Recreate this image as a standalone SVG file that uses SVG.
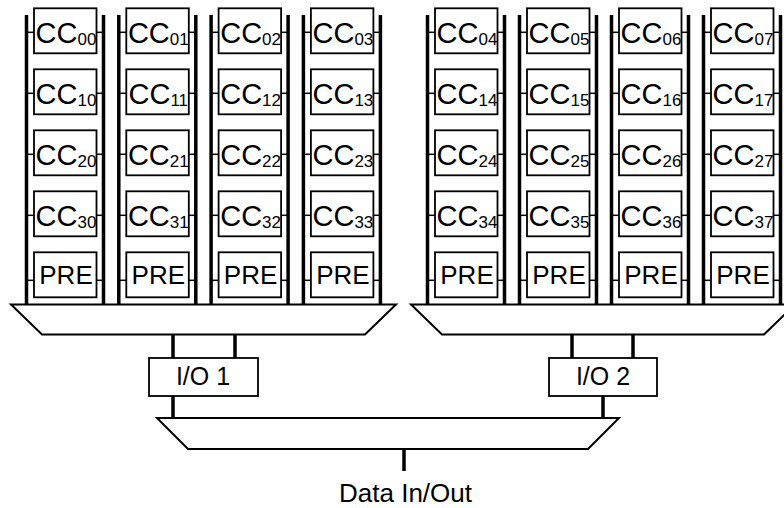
<svg xmlns="http://www.w3.org/2000/svg" width="784" height="508" viewBox="0 0 784 508">
<style>
.box{fill:#fff;stroke:#000;stroke-width:1.8}
.bar{stroke:#000;stroke-width:3.5;fill:none}
.stub{stroke:#000;stroke-width:1.5;fill:none}
.trap{fill:#fff;stroke:#000;stroke-width:2}
.cc{font-family:"Liberation Sans",Arial,sans-serif;font-size:29px;fill:#000;text-anchor:middle}
.sub{font-size:17px}
.pre{font-family:"Liberation Sans",Arial,sans-serif;font-size:26px;fill:#000;text-anchor:middle}
.lbl{font-family:"Liberation Sans",Arial,sans-serif;font-size:25px;fill:#000;text-anchor:middle}
</style>
<defs>
<g id="col">
<line class="bar" x1="0" y1="15" x2="0" y2="305"/>
<line class="bar" x1="77" y1="15" x2="77" y2="305"/>
<line class="stub" x1="0" y1="32.3" x2="7.5" y2="32.3"/><line class="stub" x1="70" y1="32.3" x2="77" y2="32.3"/>
<line class="stub" x1="0" y1="93.3" x2="7.5" y2="93.3"/><line class="stub" x1="70" y1="93.3" x2="77" y2="93.3"/>
<line class="stub" x1="0" y1="154.3" x2="7.5" y2="154.3"/><line class="stub" x1="70" y1="154.3" x2="77" y2="154.3"/>
<line class="stub" x1="0" y1="215.3" x2="7.5" y2="215.3"/><line class="stub" x1="70" y1="215.3" x2="77" y2="215.3"/>
<line class="stub" x1="0" y1="280.3" x2="7.5" y2="280.3"/><line class="stub" x1="70" y1="280.3" x2="77" y2="280.3"/>
<rect class="box" x="7.5" y="8.3" width="62.5" height="45"/>
<rect class="box" x="7.5" y="69.3" width="62.5" height="45"/>
<rect class="box" x="7.5" y="130.3" width="62.5" height="45"/>
<rect class="box" x="7.5" y="191.3" width="62.5" height="45"/>
<rect class="box" x="7.5" y="252.3" width="62.5" height="45"/>
<text class="pre" x="39.5" y="283.5">PRE</text>
</g>
</defs>
<g id="mux-left"><polygon class="trap" points="11,304.5 396,304.5 365,334.5 42,334.5"/></g>
<g id="mux-right"><polygon class="trap" points="411,304.5 795,304.5 764,334.5 442,334.5"/></g>
<g id="mux-bottom"><polygon class="trap" points="157,418 619,418 588,449 188,449"/></g>
<g id="col0" transform="translate(26.5,0)"><use href="#col"/>
<text class="cc" x="39.5" y="42.8">CC<tspan class="sub" dy="2.5">00</tspan></text>
<text class="cc" x="39.5" y="103.8">CC<tspan class="sub" dy="2.5">10</tspan></text>
<text class="cc" x="39.5" y="164.8">CC<tspan class="sub" dy="2.5">20</tspan></text>
<text class="cc" x="39.5" y="225.8">CC<tspan class="sub" dy="2.5">30</tspan></text></g>
<g id="col1" transform="translate(118.8,0)"><use href="#col"/>
<text class="cc" x="39.5" y="42.8">CC<tspan class="sub" dy="2.5">01</tspan></text>
<text class="cc" x="39.5" y="103.8">CC<tspan class="sub" dy="2.5">11</tspan></text>
<text class="cc" x="39.5" y="164.8">CC<tspan class="sub" dy="2.5">21</tspan></text>
<text class="cc" x="39.5" y="225.8">CC<tspan class="sub" dy="2.5">31</tspan></text></g>
<g id="col2" transform="translate(211.1,0)"><use href="#col"/>
<text class="cc" x="39.5" y="42.8">CC<tspan class="sub" dy="2.5">02</tspan></text>
<text class="cc" x="39.5" y="103.8">CC<tspan class="sub" dy="2.5">12</tspan></text>
<text class="cc" x="39.5" y="164.8">CC<tspan class="sub" dy="2.5">22</tspan></text>
<text class="cc" x="39.5" y="225.8">CC<tspan class="sub" dy="2.5">32</tspan></text></g>
<g id="col3" transform="translate(303.4,0)"><use href="#col"/>
<text class="cc" x="39.5" y="42.8">CC<tspan class="sub" dy="2.5">03</tspan></text>
<text class="cc" x="39.5" y="103.8">CC<tspan class="sub" dy="2.5">13</tspan></text>
<text class="cc" x="39.5" y="164.8">CC<tspan class="sub" dy="2.5">23</tspan></text>
<text class="cc" x="39.5" y="225.8">CC<tspan class="sub" dy="2.5">33</tspan></text></g>
<g id="col4" transform="translate(427.5,0)"><use href="#col"/>
<text class="cc" x="39.5" y="42.8">CC<tspan class="sub" dy="2.5">04</tspan></text>
<text class="cc" x="39.5" y="103.8">CC<tspan class="sub" dy="2.5">14</tspan></text>
<text class="cc" x="39.5" y="164.8">CC<tspan class="sub" dy="2.5">24</tspan></text>
<text class="cc" x="39.5" y="225.8">CC<tspan class="sub" dy="2.5">34</tspan></text></g>
<g id="col5" transform="translate(519.5,0)"><use href="#col"/>
<text class="cc" x="39.5" y="42.8">CC<tspan class="sub" dy="2.5">05</tspan></text>
<text class="cc" x="39.5" y="103.8">CC<tspan class="sub" dy="2.5">15</tspan></text>
<text class="cc" x="39.5" y="164.8">CC<tspan class="sub" dy="2.5">25</tspan></text>
<text class="cc" x="39.5" y="225.8">CC<tspan class="sub" dy="2.5">35</tspan></text></g>
<g id="col6" transform="translate(611.5,0)"><use href="#col"/>
<text class="cc" x="39.5" y="42.8">CC<tspan class="sub" dy="2.5">06</tspan></text>
<text class="cc" x="39.5" y="103.8">CC<tspan class="sub" dy="2.5">16</tspan></text>
<text class="cc" x="39.5" y="164.8">CC<tspan class="sub" dy="2.5">26</tspan></text>
<text class="cc" x="39.5" y="225.8">CC<tspan class="sub" dy="2.5">36</tspan></text></g>
<g id="col7" transform="translate(703.5,0)"><use href="#col"/>
<text class="cc" x="39.5" y="42.8">CC<tspan class="sub" dy="2.5">07</tspan></text>
<text class="cc" x="39.5" y="103.8">CC<tspan class="sub" dy="2.5">17</tspan></text>
<text class="cc" x="39.5" y="164.8">CC<tspan class="sub" dy="2.5">27</tspan></text>
<text class="cc" x="39.5" y="225.8">CC<tspan class="sub" dy="2.5">37</tspan></text></g>
<g id="connectors">
<line class="bar" x1="173" y1="334.5" x2="173" y2="358"/>
<line class="bar" x1="235" y1="334.5" x2="235" y2="358"/>
<line class="bar" x1="173" y1="396" x2="173" y2="418"/>
<line class="bar" x1="572" y1="334.5" x2="572" y2="358"/>
<line class="bar" x1="633" y1="334.5" x2="633" y2="358"/>
<line class="bar" x1="603" y1="396" x2="603" y2="418"/>
<line class="bar" x1="404" y1="449" x2="404" y2="471"/>
</g>
<g id="io1"><rect class="box" x="149" y="358" width="109" height="38"/><text class="lbl" x="203" y="385">I/O 1</text></g>
<g id="io2"><rect class="box" x="549" y="358" width="108" height="38"/><text class="lbl" x="603" y="385">I/O 2</text></g>
<g id="data"><text class="lbl" x="405.5" y="502" textLength="133" lengthAdjust="spacingAndGlyphs">Data In/Out</text></g>
</svg>
